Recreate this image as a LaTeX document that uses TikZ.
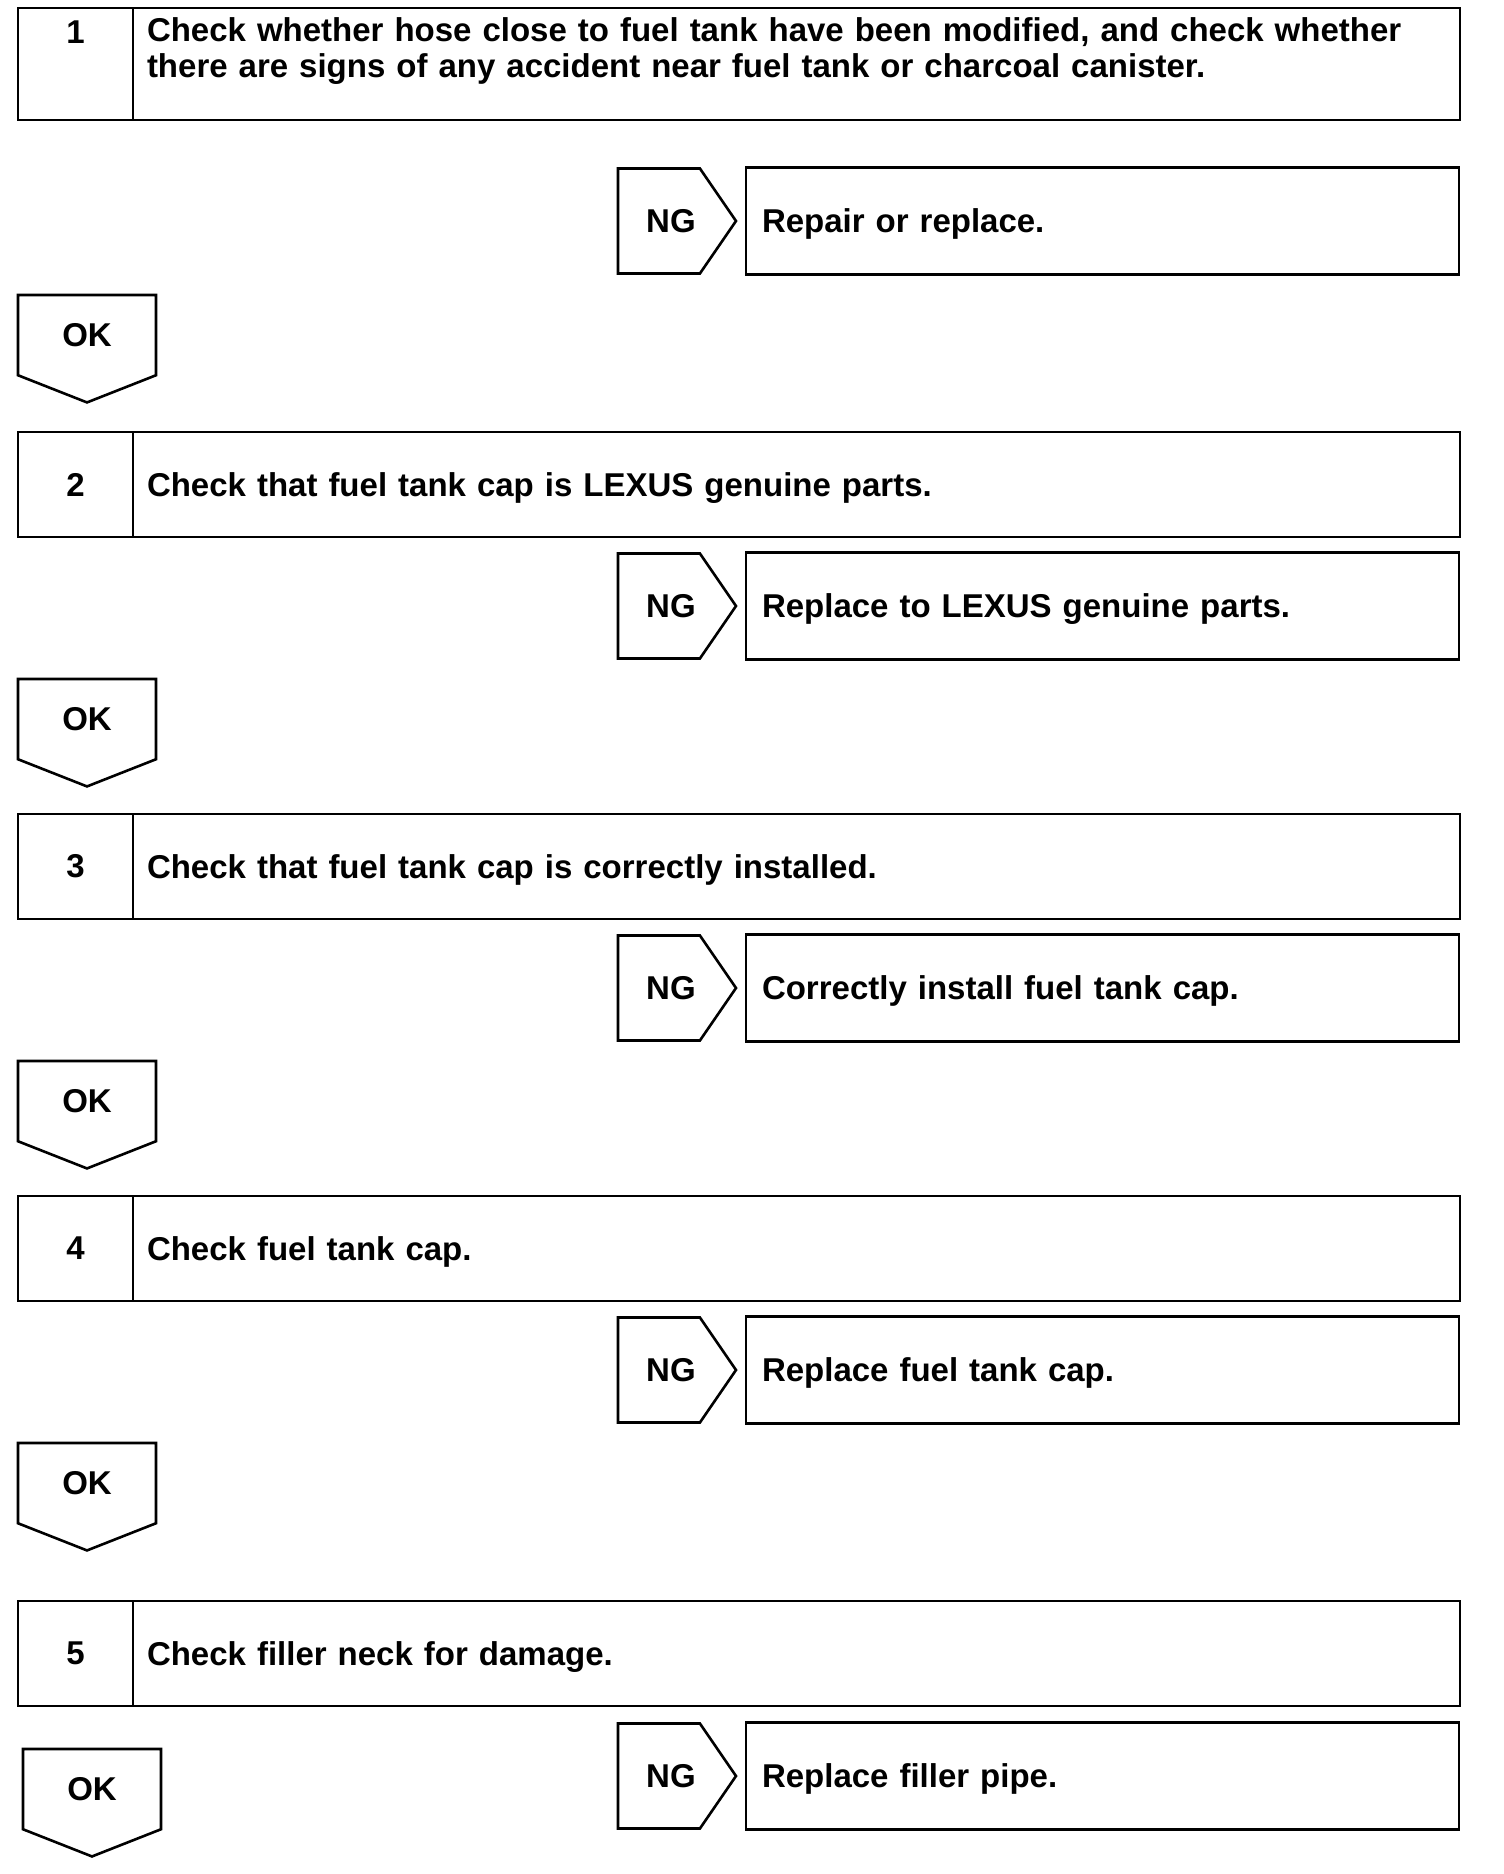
\documentclass[tikz,border=0pt]{standalone}
\usepackage{fontspec}
\setmainfont{Liberation Sans}
\usetikzlibrary{positioning, shapes.symbols}

\begin{document}
\begin{tikzpicture}[x=1pt, y=-1pt, line width=2.6pt,
    every node/.style={font=\fontsize{33}{36}\selectfont\bfseries},
    numbox/.style={draw, outer sep=0pt, inner sep=0pt, align=center,
          minimum width=115pt, minimum height=105pt, anchor=north west},
    stepbox/.style={draw, outer sep=0pt, inner xsep=14pt, inner ysep=0pt, text depth=0pt,
          text width=1299pt, minimum height=105pt, align=left},
    ngbox/.style={draw, shape=signal, signal to=east, signal pointer angle=111,
          outer sep=0pt, inner sep=0pt, minimum width=118pt, minimum height=105pt, anchor=west,
          execute at begin node={\hspace*{24pt}}},
    fixbox/.style={draw, outer sep=0pt, inner xsep=16pt, inner ysep=0pt, text depth=0pt,
          text width=681pt, minimum height=107pt, align=left},
    okbox/.style={draw, shape=signal, signal to=south, signal pointer angle=137,
          outer sep=0pt, inner sep=0pt, minimum width=138pt, minimum height=90pt, anchor=north}]
    \useasboundingbox (0,0) rectangle (1504,1874);

    % step 1
    \node[numbox, minimum height=112pt] (n1) at (18,8) {1\\[28pt]\mbox{}};
    \node[stepbox, text depth=, minimum height=112pt, right=0pt of n1] (s1)
          {Check whether hose close to fuel tank have been modified, and check whether\\there are signs of any accident near fuel tank or charcoal canister.\\[-3pt]\mbox{}};
    \node[ngbox] (ng1) at (618,221) {NG};
    \node[fixbox, right=10pt of ng1] (fix1) {Repair or replace.};
    \node[okbox] (ok1) at (87,295) {OK};

    % step 2
    \node[numbox] (n2) at (18,432) {2};
    \node[stepbox, right=0pt of n2] (s2) {Check that fuel tank cap is LEXUS genuine parts.};
    \node[ngbox] (ng2) at (618,606) {NG};
    \node[fixbox, right=10pt of ng2] (fix2) {Replace to LEXUS genuine parts.};
    \node[okbox] (ok2) at (87,679) {OK};

    % step 3
    \node[numbox] (n3) at (18,814) {3};
    \node[stepbox, right=0pt of n3] (s3) {Check that fuel tank cap is correctly installed.};
    \node[ngbox] (ng3) at (618,988) {NG};
    \node[fixbox, right=10pt of ng3] (fix3) {Correctly install fuel tank cap.};
    \node[okbox] (ok3) at (87,1061) {OK};

    % step 4
    \node[numbox] (n4) at (18,1196) {4};
    \node[stepbox, right=0pt of n4] (s4) {Check fuel tank cap.};
    \node[ngbox] (ng4) at (618,1370) {NG};
    \node[fixbox, right=10pt of ng4] (fix4) {Replace fuel tank cap.};
    \node[okbox] (ok4) at (87,1443) {OK};

    % step 5
    \node[numbox] (n5) at (18,1601) {5};
    \node[stepbox, right=0pt of n5] (s5) {Check filler neck for damage.};
    \node[ngbox] (ng5) at (618,1776) {NG};
    \node[fixbox, right=10pt of ng5] (fix5) {Replace filler pipe.};
    \node[okbox] (ok5) at (92,1749) {OK};
\end{tikzpicture}
\end{document}
